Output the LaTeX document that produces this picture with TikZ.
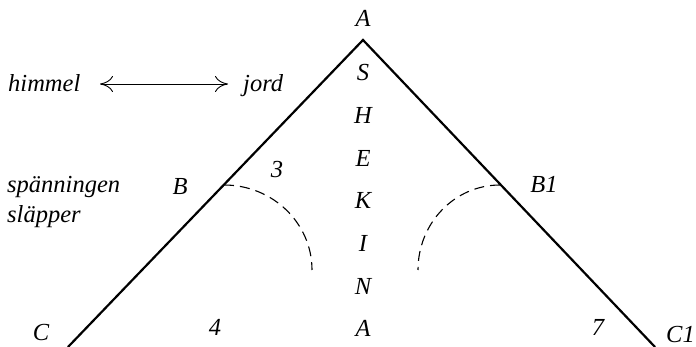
\documentclass[tikz,border=0pt]{standalone}
\usepackage{fontspec}
\setmainfont{Liberation Serif}
\usetikzlibrary{arrows.meta}
\begin{document}
\begin{tikzpicture}[x=1pt,y=-1pt,
  lbl/.style={inner sep=0pt,font=\fontsize{24.5}{28}\selectfont\itshape},
  tri/.style={line width=2.2pt,line join=miter},
  arcd/.style={line width=1.1pt,dash pattern=on 10pt off 6pt},
  tip/.style={To[length=13pt,width=16pt]}]
\useasboundingbox (0,0) rectangle (696,347);
\coordinate (apex) at (363,40);
\coordinate (cl) at (68,347);
\coordinate (cr) at (655,347);
\draw[gray!40,line width=1pt] (cl) -- (cr);
\draw[tri] (cl) -- (apex) -- (cr);
% column letters
\node[lbl,anchor=base] (atop) at (363,27) {A};
\node[lbl,anchor=base] (s) at (363,81) {S};
\node[lbl,anchor=base] (h) at (363,123.7) {H};
\node[lbl,anchor=base] (e) at (363,166.3) {E};
\node[lbl,anchor=base] (k) at (363,209) {K};
\node[lbl,anchor=base] (i) at (363,251.7) {I};
\node[lbl,anchor=base] (n) at (363,294.3) {N};
\node[lbl,anchor=base] (abot) at (363,337) {A};
% left texts
\node[lbl,anchor=base west] (himmel) at (8,92) {himmel};
\node[lbl,anchor=base west] (jord) at (243,92) {jord};
\coordinate (arl) at (100,84);
\coordinate (arr) at (228,84);
\draw[{To[length=13pt,width=16pt]}-{To[length=13pt,width=16pt]},line width=0.9pt] (arl) -- (arr);
\node[lbl,anchor=base west] (span) at (7,193) {spänningen};
\node[lbl,anchor=base west] (slap) at (7,223) {släpper};
\node[lbl,anchor=base] (b) at (180,195) {B};
\node[lbl,anchor=base] (three) at (277,178) {3};
\node[lbl,anchor=base] (bone) at (544,193) {B1};
\node[lbl,anchor=base] (c) at (41,340) {C};
\node[lbl,anchor=base] (four) at (215,335) {4};
\node[lbl,anchor=base] (seven) at (598,335) {7};
\node[lbl,anchor=base west] (cone) at (666,342) {C1};
% dashed arcs
\coordinate (la) at (224,185);
\coordinate (ra) at (500,185);
\draw[arcd] (la) arc[start angle=-90,end angle=0,x radius=88,y radius=85];
\draw[arcd] (ra) arc[start angle=-90,end angle=-180,x radius=82,y radius=85];
\end{tikzpicture}
\end{document}
